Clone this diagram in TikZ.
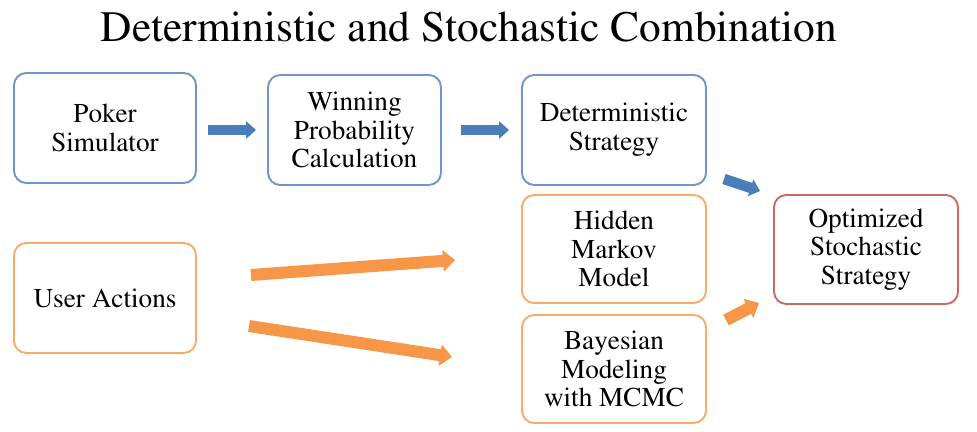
\documentclass[tikz,border=0pt]{standalone}
\usepackage[T1]{fontenc}
\usepackage{times}
\usepackage{tikz}
\usetikzlibrary{calc,arrows.meta,positioning}
\definecolor{boxblue}{HTML}{6F96CC}
\definecolor{boxorange}{HTML}{F8AC6C}
\definecolor{boxred}{HTML}{CB6966}
\definecolor{arrblue}{HTML}{4A7EBB}
\definecolor{arrorange}{HTML}{F79646}
\tikzset{
	box/.style={draw,line width=1.1pt,rounded corners=7pt,align=center,
		minimum width=3.64cm,minimum height=2.2cm,inner sep=2pt,
		font=\fontsize{15.5}{16.3}\selectfont},
	bluebox/.style={box,draw=boxblue},
	orangebox/.style={box,draw=boxorange},
	redbox/.style={box,draw=boxred},
	bluearr/.style={arrblue,line width=0.21cm,-{Triangle[length=0.2cm,width=0.34cm]}},
	orangearr/.style={arrorange,line width=0.24cm,-{Triangle[length=0.24cm,width=0.42cm]}}
}

\begin{document}
\begin{tikzpicture}
	
	\useasboundingbox (0,0) rectangle (19.54,-8.64);
	
	% -------------------------------------------------
	% 1. Title
	% -------------------------------------------------
	\node[font=\fontsize{24.7}{28}\selectfont] (title) at (9.38,-0.54) {Deterministic and Stochastic Combination};
	
	% -------------------------------------------------
	% 2. Boxes
	% -------------------------------------------------
	\node[bluebox] (poker) at (2.10,-2.56) {Poker\\Simulator};
	\node[bluebox,minimum width=3.46cm] (winning) at (7.09,-2.60) {Winning\\Probability\\Calculation};
	\node[bluebox,minimum width=3.68cm] (det) at (12.28,-2.60) {Deterministic\\Strategy};
	
	\node[orangebox] (user) at (2.10,-5.96) {User Actions};
	\node[orangebox,minimum width=3.68cm,minimum height=2.16cm] (hmm) at (12.28,-4.98) {Hidden\\Markov\\Model};
	\node[orangebox,minimum width=3.68cm,minimum height=2.16cm] (bayes) at (12.28,-7.38) {Bayesian\\Modeling\\with MCMC};
	
	\node[redbox,minimum width=3.68cm,minimum height=2.18cm] (opt) at (17.32,-4.99) {Optimized\\Stochastic\\Strategy};
	
	% -------------------------------------------------
	% 3. Arrows
	% -------------------------------------------------
	\draw[bluearr,shorten <=0.22cm,shorten >=0.22cm] (poker.east |- winning.west) -- (winning.west);
	\draw[bluearr,shorten <=0.38cm,shorten >=0.24cm] (winning.east) -- (det.west);
	\draw[bluearr] ($(det.south east)+(0.34,0.14)$) -- ($(opt.north west)+(-0.26,0.06)$);
	
	\draw[orangearr] ($(user.east)+(1.08,0.46)$) -- ($(hmm.west)+(-1.32,-0.22)$);
	\draw[orangearr] ($(user.east)+(1.04,-0.56)$) -- ($(bayes.west)+(-1.38,0.24)$);
	\draw[orangearr] ($(bayes.north east)+(0.38,-0.12)$) -- ($(opt.south west)+(-0.28,0.04)$);
	
\end{tikzpicture}
\end{document}
